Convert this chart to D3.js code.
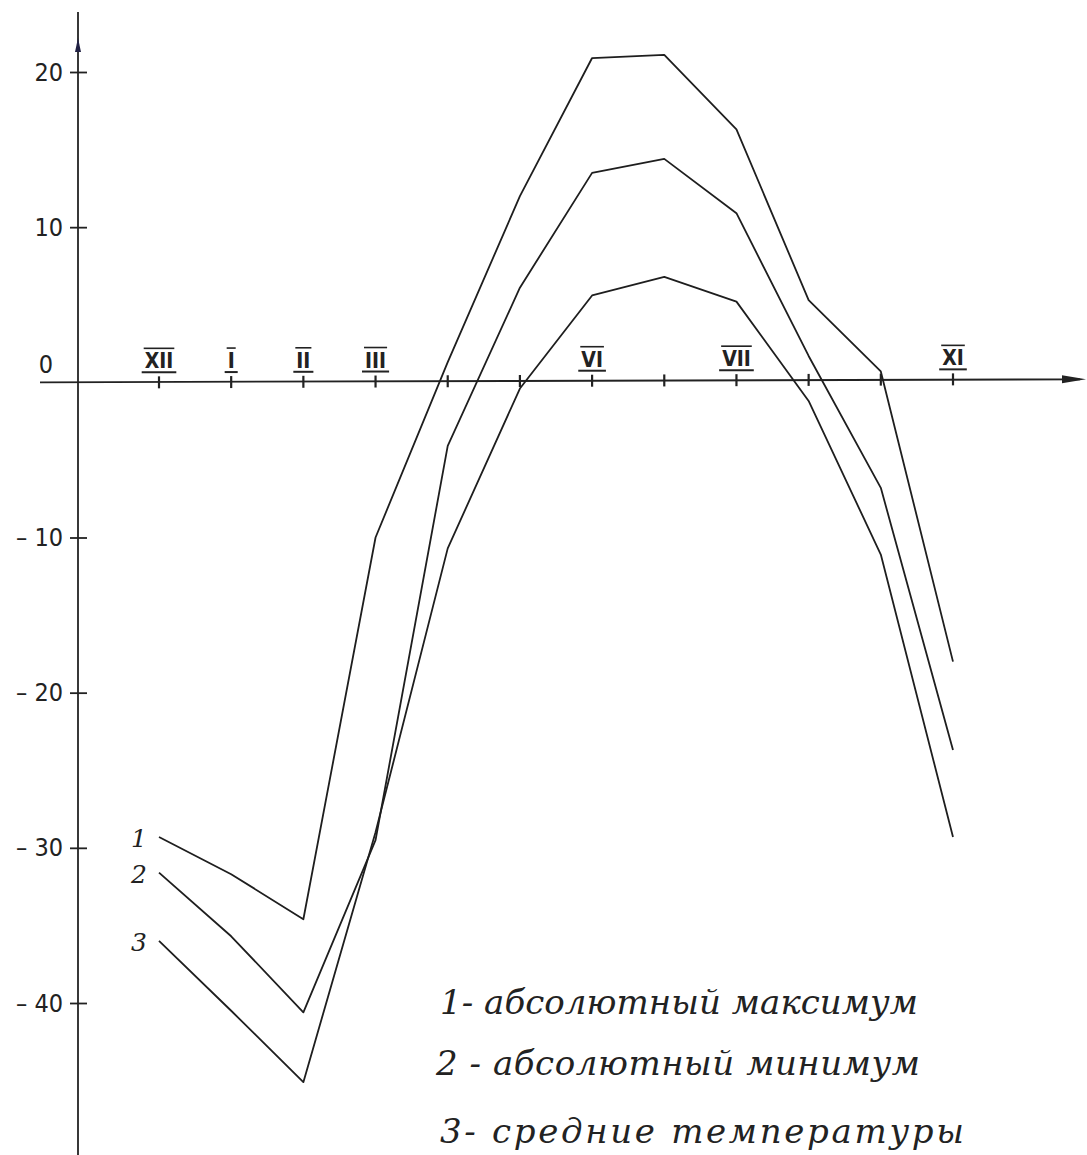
<!DOCTYPE html>
<html>
    <head>
        <meta charset="utf-8">
        <script type="text/javascript" src="https://d3js.org/d3.v7.min.js"></script>
        <style>
            html, body {
                margin: 0;
                background: #fff;
            }
            svg .num {
                font-family: "DejaVu Sans Condensed", "Liberation Sans Narrow", sans-serif;
                font-stretch: condensed;
                font-size: 25px;
                fill: #222;
            }
            svg .month {
                font-family: "DejaVu Sans Condensed", "Liberation Sans Narrow", sans-serif;
                font-stretch: condensed;
                font-size: 21px;
                font-weight: bold;
                fill: #222;
            }
            svg .hand {
                font-family: "DejaVu Serif", serif;
                font-style: italic;
                fill: #222;
            }
        </style>
    </head>
    <body>
        <div id="chart"></div>

        <script>
            // months on the x axis, Dec .. Nov
            var months = ["XII", "I", "II", "III", "IV", "V", "VI", "VII", "VIII", "IX", "X", "XI"];
            // what is actually written under the ticks
            var monthLabels = ["XII", "I", "II", "III", "", "", "VI", "", "VII", "", "", "XI"];
            var yTicks = [20, 10, -10, -20, -30, -40];

            // temperatures
            var absMax  = [-29.3, -31.7, -34.6, -10.0,   1.3, 12.0, 20.9, 21.1, 16.3,  5.3,   0.7, -18.0];
            var absMin  = [-31.6, -35.7, -40.6, -29.5,  -4.1,  6.1, 13.5, 14.4, 10.9,  1.7,  -6.8, -23.7];
            var meanT   = [-36.0, -40.5, -45.1, -29.0, -10.7, -0.4,  5.6,  6.8,  5.2, -1.2, -11.1, -29.3];

            var seriesNames = ["1", "2", "3"];
            var legendLabels = ["1- абсолютный  максимум", "2 - абсолютный  минимум", "3- средние  температуры"];

            var width = 1087, height = 1155;
            var axisX = 78;

            var xScale = d3.scalePoint().domain(months).range([159, 953]);
            var yScale = d3.scaleLinear().domain([-40, 20]).range([1003, 72]);
            var y0 = yScale(0);

            var svg = d3.select("#chart")
                .append("svg")
                    .attr("width", width)
                    .attr("height", height);

            // x axis line with arrow
            svg.append("line")
                .attr("x1", 40).attr("x2", 1080)
                .attr("y1", y0).attr("y2", y0 - 3)
                .attr("stroke", "#222").attr("stroke-width", 1.8);
            svg.append("path")
                .attr("d", "M1062," + (y0 - 7) + " L1086," + (y0 - 3) + " L1062," + (y0 + 1) + " Z")
                .attr("fill", "#222");

            // y axis line with arrow
            svg.append("line")
                .attr("x1", axisX).attr("x2", axisX)
                .attr("y1", 12).attr("y2", height)
                .attr("stroke", "#222").attr("stroke-width", 1.8);
            svg.append("path")
                .attr("d", "M" + (axisX - 3) + ",52 L" + axisX + ",38 L" + (axisX + 3) + ",52 Z")
                .attr("fill", "#224");

            var yAxis = svg.append("g")
                .attr("class", "y axis")
                .attr("transform", "translate(" + axisX + ",0)")
                .call(d3.axisLeft(yScale)
                    .tickValues(yTicks)
                    .tickSize(0)
                    .tickPadding(15)
                    .tickFormat(function(d) { return d < 0 ? "\u2013 " + (-d) : d; }));
            yAxis.select(".domain").remove();
            yAxis.selectAll(".tick text").attr("class", "num").attr("font-family", null).attr("font-size", null);
            yAxis.selectAll(".tick line")
                .attr("x1", -8).attr("x2", 9)
                .attr("stroke", "#222").attr("stroke-width", 1.8);

            svg.append("text")
                .attr("class", "num")
                .attr("x", 46).attr("y", y0 - 9)
                .attr("text-anchor", "middle")
                .text("0");

            // month ticks
            var mt = svg.append("g").attr("class", "x axis");
            mt.selectAll(".mtick")
                .data(months)
                .enter()
                .append("line")
                .attr("class", "mtick")
                .attr("x1", function(d) { return xScale(d); })
                .attr("x2", function(d) { return xScale(d); })
                .attr("y1", function(d, i) { return y0 - 6 - i * 0.27; })
                .attr("y2", function(d, i) { return y0 + 6 - i * 0.27; })
                .attr("stroke", "#222").attr("stroke-width", 2.2);

            var lab = mt.selectAll(".mlab")
                .data(months.map(function(m, i) { return {m: m, t: monthLabels[i], i: i}; })
                    .filter(function(d) { return d.t !== ""; }))
                .enter()
                .append("g")
                .attr("class", "mlab")
                .attr("transform", function(d) { return "translate(" + xScale(d.m) + "," + (y0 - 14 - d.i * 0.27) + ")"; });
            lab.append("text")
                .attr("class", "month")
                .attr("text-anchor", "middle")
                .text(function(d) { return d.t; });
            lab.each(function() {
                var g = d3.select(this);
                var b = g.select("text").node().getBBox();
                g.append("line")
                    .attr("x1", b.x - 1).attr("x2", b.x + b.width + 1)
                    .attr("y1", -20).attr("y2", -20)
                    .attr("stroke", "#222").attr("stroke-width", 1.6);
                g.append("line")
                    .attr("x1", b.x - 3).attr("x2", b.x + b.width + 3)
                    .attr("y1", 4).attr("y2", 4)
                    .attr("stroke", "#222").attr("stroke-width", 2);
            });

            // the three curves
            var line = d3.line()
                .x(function(d, i) { return xScale(months[i]); })
                .y(function(d) { return yScale(d); });

            var series = [absMax, absMin, meanT];
            svg.selectAll(".curve")
                .data(series)
                .enter()
                .append("path")
                .attr("class", "curve")
                .attr("d", line)
                .attr("fill", "none")
                .attr("stroke", "#1e1e1e")
                .attr("stroke-width", 1.8)
                .attr("stroke-linejoin", "round");

            // curve numbers at the left ends
            svg.selectAll(".cnum")
                .data(series)
                .enter()
                .append("text")
                .attr("class", "hand")
                .attr("font-size", 25)
                .attr("text-anchor", "end")
                .attr("x", xScale(months[0]) - 12)
                .attr("y", function(d) { return yScale(d[0]) + 10; })
                .text(function(d, i) { return seriesNames[i]; });

            // legend
            svg.selectAll(".leg")
                .data(legendLabels)
                .enter()
                .append("text")
                .attr("class", "hand leg")
                .attr("font-size", 34)
                .attr("x", function(d, i) { return i == 1 ? 436 : 440; })
                .attr("y", function(d, i) { return [1014, 1075, 1143][i]; })
                .attr("textLength", function(d, i) { return [478, 484, 524][i]; })
                .attr("lengthAdjust", "spacing")
                .text(function(d) { return d; });
        </script>
    </body>
</html>
